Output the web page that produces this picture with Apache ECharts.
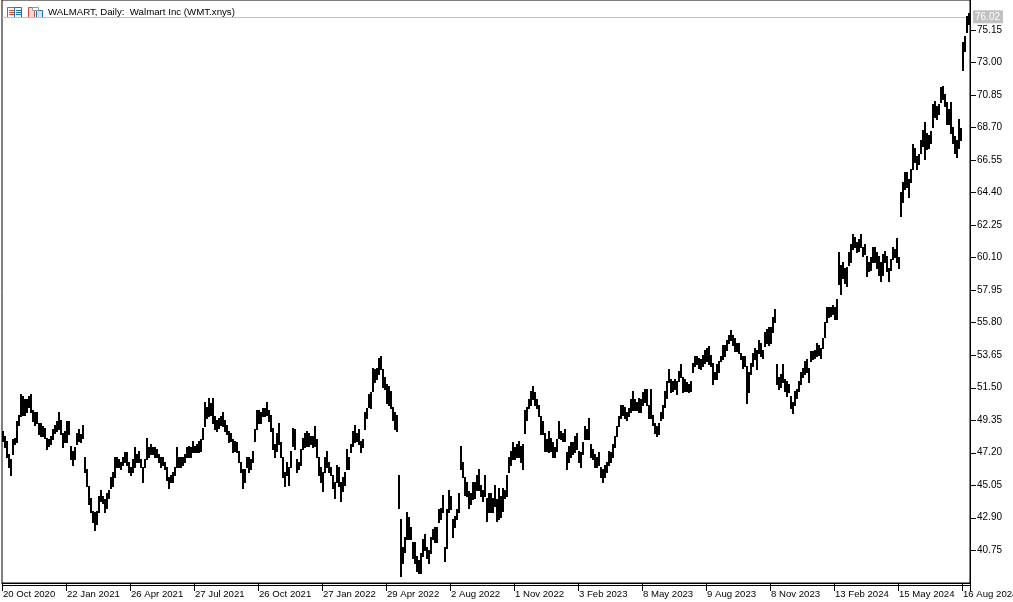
<!DOCTYPE html>
<html>
<head>
<meta charset="utf-8">
<title>WALMART, Daily</title>
<style>
html, body { margin: 0; padding: 0; background: #fff; }
#chart { width: 1013px; height: 602px; }
</style>
<script src="https://cdn.jsdelivr.net/npm/echarts@6/dist/echarts.min.js"></script>
</head>
<body>
<div id="chart"></div>
<script>
// one entry for every two trading days
var highs = [
48.56,48.23,47.90,47.04,46.71,48.03,48.16,49.22,49.68,51.01,50.88,50.68,50.68,50.88,51.07,50.01,49.82,49.88,49.15,49.15,48.89,48.82,48.16,48.03,48.23,48.69,49.02,49.22,49.88,49.35,48.49,48.56,49.22,49.22,47.57,47.24,47.50,48.49,48.69,48.36,49.02,
46.84,46.05,44.92,44.19,43.27,43.20,43.27,44.26,44.72,44.26,44.06,44.52,44.72,45.58,45.85,46.84,46.90,46.71,46.57,46.84,47.17,47.17,46.57,46.24,46.71,47.50,47.04,47.24,46.71,46.18,46.71,48.16,47.50,47.70,47.50,47.50,47.37,47.04,46.84,46.84,46.57,46.18,45.58,45.71,45.85,46.18,47.50,46.90,46.84,46.90,47.04,47.50,47.57,47.50,47.90,47.57,47.70,47.90,
48.03,48.82,50.54,50.21,50.80,50.47,50.80,49.55,49.35,49.48,49.55,49.88,49.35,49.02,48.56,48.49,48.03,47.90,47.83,47.24,46.57,46.05,46.05,46.84,46.90,46.71,47.24,48.69,50.01,50.01,49.82,50.14,50.14,50.54,50.01,49.68,48.82,47.70,48.49,49.15,47.83,46.84,45.91,46.51,46.18,47.24,48.82,48.69,46.71,46.57,47.37,48.16,48.49,48.56,48.49,48.23,48.23,48.89,48.03,46.84,46.24,45.85,46.84,47.24,46.57,46.24,45.71,45.19,46.37,46.18,45.19,45.58,45.91,47.37,46.84,47.70,48.56,49.02,48.49,48.69,
47.90,48.03,49.88,50.14,51.01,51.14,52.79,52.66,52.79,53.45,53.58,52.66,52.13,51.67,51.54,51.21,50.21,49.82,49.68,
45.71,42.74,40.95,41.55,43.20,42.87,42.27,41.28,41.28,40.29,40.09,40.55,41.42,41.75,40.95,40.75,41.61,42.08,42.27,42.27,43.40,43.53,44.39,40.95,43.40,44.72,44.26,42.74,42.94,43.40,44.52,47.57,46.51,45.52,45.25,44.59,44.52,45.19,45.19,45.71,46.05,45.05,44.72,45.71,44.19,44.52,44.52,44.19,45.05,44.06,44.85,44.26,44.85,44.72,45.71,46.84,47.24,47.83,47.50,47.70,47.90,47.57,47.70,50.01,50.21,50.68,51.21,51.54,51.14,50.68,50.34,
49.55,49.22,48.49,48.03,48.56,48.16,47.83,47.50,48.03,49.22,48.56,48.49,48.69,47.17,47.57,47.83,47.83,48.23,48.49,47.24,
47.17,47.83,48.89,48.69,49.48,47.70,47.37,47.04,46.84,47.17,46.24,46.05,46.37,46.57,47.24,47.17,47.70,48.23,48.89,49.55,
50.34,50.34,50.21,49.88,50.14,50.68,51.21,50.68,50.54,50.80,50.68,51.14,51.34,51.34,50.34,51.34,49.68,49.15,48.89,49.15,
49.82,50.34,51.21,51.87,52.66,52.00,51.87,52.00,51.87,52.53,52.99,52.13,52.00,51.80,51.67,51.87,53.12,53.52,53.58,53.45,
53.32,53.65,53.98,54.11,54.18,53.65,53.12,52.46,52.99,53.19,53.52,54.31,54.31,54.64,54.97,55.24,54.97,54.77,54.44,54.44,
53.78,53.52,53.52,52.86,52.46,53.12,53.78,54.11,53.98,54.64,54.44,53.98,55.11,55.31,55.44,55.50,56.10,56.63,
53.05,52.19,52.33,52.99,52.00,51.87,51.67,50.88,50.54,51.21,51.34,51.87,52.46,52.79,53.19,53.32,52.79,53.85,53.85,53.98,
54.44,54.31,54.11,54.77,55.77,56.82,56.76,56.82,56.95,56.76,57.29,60.40,59.60,59.80,59.40,59.47,60.40,60.93,61.59,61.39,
61.06,61.26,61.59,60.79,60.93,60.14,59.80,60.07,60.73,60.73,60.40,60.14,59.74,60.27,60.47,60.14,59.40,59.94,60.79,60.60,
61.33,60.07,
64.43,65.09,65.69,65.69,65.23,65.89,67.54,67.34,66.75,66.88,67.87,68.53,69.06,68.33,68.20,68.40,70.19,70.39,70.06,70.19,71.31,71.38,70.85,70.32,69.86,70.32,68.73,68.07,67.87,69.20,68.66,74.35,74.69,76.01,76.27
];
var lows = [
47.90,47.50,46.90,46.18,45.65,47.04,47.76,47.83,49.02,49.55,49.68,49.68,49.88,50.21,49.88,49.22,49.02,49.15,48.36,48.23,48.23,48.16,47.43,47.57,47.70,48.03,48.49,48.56,48.69,48.36,47.50,47.83,47.83,48.36,46.71,46.31,46.71,47.70,47.90,47.83,48.16,
45.85,44.92,43.73,43.20,42.54,42.01,42.41,43.20,43.93,43.86,43.20,43.53,44.19,44.85,44.92,45.52,46.18,46.24,46.11,46.31,46.51,46.37,45.91,45.71,45.91,46.24,46.51,46.51,46.18,45.19,46.18,46.71,46.90,47.04,47.04,46.90,46.84,46.57,46.24,46.37,46.05,45.38,44.79,45.19,45.25,45.71,46.24,46.24,46.24,46.37,46.51,46.84,46.90,46.90,47.17,47.17,47.17,47.17,
47.24,48.03,48.89,49.48,49.55,49.68,49.15,48.69,48.56,48.82,49.02,48.89,48.56,48.36,47.83,47.90,47.17,47.24,47.17,46.57,45.91,44.85,45.25,46.18,45.91,46.05,46.57,47.90,48.69,49.15,49.15,49.55,49.55,49.68,49.22,48.56,47.37,46.90,47.24,47.70,46.84,45.58,44.98,45.71,45.05,46.24,47.57,47.37,45.91,46.05,46.37,47.37,47.50,47.57,47.57,47.70,47.50,47.57,46.84,45.71,45.19,44.59,45.85,46.24,45.85,45.71,44.85,44.19,45.19,44.92,43.93,44.59,45.05,46.05,46.05,47.17,47.57,47.83,47.90,47.70,
47.17,47.50,48.69,49.48,50.21,50.14,51.21,51.80,52.00,52.33,52.66,51.47,51.34,50.47,50.34,50.14,49.35,48.69,48.62,
43.53,38.97,39.89,40.62,41.42,41.42,41.42,40.22,39.89,39.30,39.23,39.17,40.29,40.75,40.22,39.89,40.55,41.42,41.22,41.22,42.54,42.74,43.20,39.96,40.88,43.20,43.40,41.61,42.21,42.74,43.20,46.05,45.52,44.39,44.26,43.53,43.73,44.06,44.19,44.72,44.72,44.26,43.93,44.26,42.61,43.20,43.20,43.20,43.60,42.61,42.74,42.87,43.27,44.19,44.26,45.85,46.37,46.71,46.71,46.84,46.90,46.57,46.05,48.49,49.35,50.14,50.34,50.68,50.34,50.14,49.55,
48.36,48.36,47.24,47.24,47.17,47.24,46.90,46.90,47.24,48.16,48.03,47.90,47.90,46.05,46.57,46.84,47.04,47.17,47.37,46.57,
46.18,47.04,48.03,48.03,48.03,46.90,46.71,46.24,46.24,46.37,45.58,45.25,45.58,45.91,46.37,46.51,46.84,47.50,48.23,48.89,
49.48,49.68,49.48,49.35,49.55,49.88,50.01,50.01,50.01,49.82,49.82,50.34,50.54,50.34,49.48,49.48,49.02,48.49,48.23,48.36,
49.35,49.48,50.21,50.80,51.80,51.14,51.21,51.34,51.01,51.87,52.13,51.14,51.21,51.21,51.14,51.21,52.46,52.86,52.99,52.79,
52.66,52.86,53.12,53.19,52.99,52.86,51.67,52.00,52.00,52.46,53.19,53.32,53.52,53.98,54.44,54.64,54.31,53.85,53.85,53.78,
53.32,52.79,52.86,50.47,51.14,52.33,52.86,53.32,52.66,53.78,53.52,53.45,54.18,54.44,54.31,54.44,55.11,55.77,
51.67,51.34,51.47,51.80,51.21,50.88,51.14,50.14,49.75,50.34,50.80,51.21,51.67,52.19,52.33,52.46,51.80,53.19,53.32,53.45,
53.52,53.65,53.45,54.11,54.84,55.83,56.10,56.17,56.30,55.97,55.97,58.28,57.62,58.74,58.41,58.15,59.60,59.74,60.60,60.73,
60.40,60.47,60.73,60.14,60.27,58.81,59.14,59.27,59.80,59.80,59.40,58.94,58.48,58.94,59.74,59.14,58.48,59.27,59.94,60.07,
59.80,59.40,
62.78,63.71,64.57,64.70,64.10,65.09,65.89,66.35,65.89,66.22,67.01,67.41,66.55,67.21,67.34,67.67,68.73,69.39,69.20,69.53,70.32,70.52,70.06,68.87,68.87,68.33,67.67,67.01,66.68,67.34,67.87,72.50,73.70,74.95,75.48
];
var dateLabels = ['20 Oct 2020','22 Jan 2021','26 Apr 2021','27 Jul 2021','26 Oct 2021','27 Jan 2022','29 Apr 2022','2 Aug 2022','1 Nov 2022','3 Feb 2023','8 May 2023','9 Aug 2023','8 Nov 2023','13 Feb 2024','15 May 2024','16 Aug 2024'];
var priceTicks = [40.75,42.90,45.05,47.20,49.35,51.50,53.65,55.80,57.95,60.10,62.25,64.40,66.55,68.70,70.85,73.00,75.15];
var lastPrice = 76.02;
var barsPerLabel = 32;

var font = 'Liberation Sans';
var chart = echarts.init(document.getElementById('chart'), null, { renderer: 'canvas' });

var categories = highs.map(function (h, i) {
    return i % barsPerLabel === 0 ? dateLabels[i / barsPerLabel] : '';
});
var bars = highs.map(function (h, i) {
    return [i, lows[i], h];
});

// low to high, snapped to whole pixels so the bars stay solid black
function renderBar(params, api) {
    var top = api.coord([api.value(0), api.value(2)]);
    var bottom = api.coord([api.value(0), api.value(1)]);
    var y = Math.floor(top[1]);
    return {
        type: 'rect',
        shape: { x: Math.round(top[0]) - 1, y: y, width: 2, height: Math.max(1, Math.ceil(bottom[1]) - y) },
        style: { fill: '#000' }
    };
}

// price axis ticks
function renderPriceTick(params, api) {
    return {
        type: 'rect',
        shape: {
            x: params.coordSys.x + params.coordSys.width,
            y: Math.round(api.coord([api.value(0), api.value(1)])[1]),
            width: 6,
            height: 1
        },
        style: { fill: '#000' }
    };
}

chart.setOption({
    animation: false,
    backgroundColor: '#fff',
    grid: {
        left: 2, right: 43, top: 0, bottom: 19,
        outerBoundsMode: 'none',
        show: true, borderColor: '#000', borderWidth: 1, backgroundColor: 'transparent'
    },
    xAxis: {
        type: 'category',
        data: categories,
        boundaryGap: true,
        axisLine: { show: true, lineStyle: { color: '#000', width: 1 } },
        axisTick: {
            show: true,
            length: 8,
            interval: barsPerLabel - 1,
            lineStyle: { color: '#000', width: 1 }
        },
        axisLabel: {
            interval: barsPerLabel - 1,
            align: 'left',
            margin: 6,
            color: '#000',
            fontFamily: font,
            fontSize: 9.6,
            hideOverlap: false
        },
        splitLine: { show: false }
    },
    yAxis: {
        type: 'value',
        position: 'right',
        min: 38.57,
        max: 77.13,
        axisLine: { show: true, lineStyle: { color: '#000', width: 1 } },
        axisTick: { show: false },
        axisLabel: {
            margin: 7,
            color: '#000',
            fontFamily: font,
            fontSize: 10,
            customValues: priceTicks,
            formatter: function (v) { return v.toFixed(2); }
        },
        splitLine: { show: false }
    },
    series: [{
        type: 'custom',
        data: bars,
        encode: { x: 0, y: [1, 2] },
        renderItem: renderBar,
        clip: false,
        markLine: {
            silent: true,
            symbol: 'none',
            animation: false,
            z: 1,
            data: [{ yAxis: lastPrice }],
            lineStyle: { color: '#c0c0c0', width: 1, type: 'solid' },
            label: {
                position: 'end',
                distance: 3,
                formatter: lastPrice.toFixed(2),
                color: '#fff',
                backgroundColor: '#c0c0c0',
                fontFamily: font,
                fontSize: 10,
                padding: [2, 3, 1, 2]
            }
        }
    }, {
        type: 'custom',
        data: priceTicks.map(function (p) { return [0, p]; }),
        encode: { x: 0, y: 1 },
        renderItem: renderPriceTick,
        clip: false,
        silent: true,
        z: 5
    }],
    graphic: [
        // second rule under the plot
        { type: 'line', shape: { x1: 2, y1: 585.5, x2: 971, y2: 585.5 }, style: { stroke: '#000', lineWidth: 1 } },
        // the two toolbar icons at the top left
        { type: 'rect', shape: { x: 7.5, y: 7.5, width: 7, height: 10 }, style: { fill: '#fff', stroke: '#e0453a', lineWidth: 1 } },
        { type: 'rect', shape: { x: 14.5, y: 7.5, width: 7, height: 10 }, style: { fill: '#fff', stroke: '#1c6fb8', lineWidth: 1 } },
        { type: 'line', shape: { x1: 9, y1: 10.5, x2: 14, y2: 10.5 }, style: { stroke: '#e0453a' } },
        { type: 'line', shape: { x1: 9, y1: 12.5, x2: 14, y2: 12.5 }, style: { stroke: '#e0453a' } },
        { type: 'line', shape: { x1: 9, y1: 14.5, x2: 14, y2: 14.5 }, style: { stroke: '#e0453a' } },
        { type: 'line', shape: { x1: 16, y1: 10.5, x2: 21, y2: 10.5 }, style: { stroke: '#1c6fb8' } },
        { type: 'line', shape: { x1: 16, y1: 12.5, x2: 21, y2: 12.5 }, style: { stroke: '#1c6fb8' } },
        { type: 'line', shape: { x1: 16, y1: 14.5, x2: 21, y2: 14.5 }, style: { stroke: '#1c6fb8' } },
        { type: 'rect', shape: { x: 28.5, y: 7.5, width: 6, height: 10 }, style: { fill: '#fbd9d6', stroke: '#e0453a', lineWidth: 1 } },
        { type: 'rect', shape: { x: 36.5, y: 10.5, width: 6, height: 7 }, style: { fill: '#cfe6f7', stroke: '#1c6fb8', lineWidth: 1 } },
        { type: 'rect', shape: { x: 32.5, y: 7.5, width: 6, height: 3 }, style: { fill: '#fff', stroke: '#9a9a9a', lineWidth: 1 } },
        {
            type: 'text', x: 48, y: 7,
            style: { text: 'WALMART, Daily:  Walmart Inc (WMT.xnys)', fill: '#000', font: '9.7px "Liberation Sans"' }
        }
    ]
});
</script>
</body>
</html>
